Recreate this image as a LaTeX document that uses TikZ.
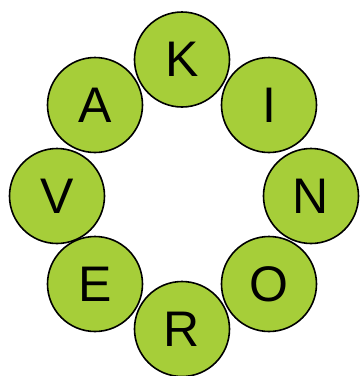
\documentclass[tikz,border=0pt]{standalone}
\usepackage{fontspec}
\setmainfont{Liberation Sans}
\definecolor{leaf}{RGB}{166,206,57}
\begin{document}
\begin{tikzpicture}[x=1pt,y=-1pt,
  letter/.style={circle,draw=black,line width=1.6pt,fill=leaf,minimum size=95pt,inner sep=0pt,
    font=\fontsize{50}{50}\selectfont}]
\useasboundingbox (0,0) rectangle (360,376);
\node[letter] (K) at (182,59.5) {K};
\node[letter] (I) at (269,105) {I};
\node[letter] (N) at (311,196) {N};
\node[letter] (O) at (269,284) {O};
\node[letter] (R) at (182,329) {R};
\node[letter] (E) at (95,284) {E};
\node[letter] (V) at (57,196) {V};
\node[letter] (A) at (95,105) {A};
\end{tikzpicture}
\end{document}
